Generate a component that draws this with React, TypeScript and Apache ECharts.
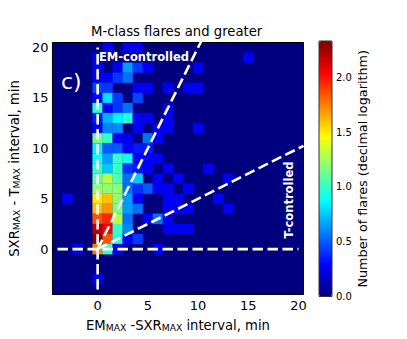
import React, { useEffect, useRef } from "react";
import * as echarts from "echarts";

const FONT = "DejaVu Sans";
const xTicks = [0, 5, 10, 15, 20];
const yTicks = [0, 5, 10, 15, 20];
const barTicks = [0, 0.5, 1, 1.5, 2];
const barMax = 2.33;
const jet = ["#00007f", "#0000ff", "#007fff", "#00ffff", "#7fff7f", "#ffff00", "#ff7f00", "#ff0000", "#7f0000"];

// log10 counts, columns x = 0..9
const yBins = [20, 19, 18, 17, 16, 15, 14, 13, 12, 11, 10, 9, 8, 7, 6, 5, 4, 3, 2, 1, 0, -3];
const row20 = [0, 0.27, 0, 0.27, 0.27, 0, 0, 0, 0, 0];
const row19 = [0.27, 0, 0, 0, 0, 0, 0, 0, 0, 0];
const row18 = [0.27, 0, 0.27, 0.65, 0.42, 0.27, 0, 0, 0, 0];
const row17 = [0.27, 0.27, 0.42, 0.55, 0, 0, 0, 0, 0, 0];
const row16 = [0.45, 0.42, 0, 0, 0.27, 0.27, 0, 0.27, 0, 0.27];
const row15 = [0.3, 0.8, 0.42, 0, 0.45, 0, 0, 0, 0, 0];
const row14 = [0.95, 0.27, 0.42, 0.55, 0, 0, 0, 0.27, 0, 0];
const row13 = [0.35, 0.7, 0.85, 0.95, 0.27, 0.27, 0, 0.27, 0, 0];
const row12 = [0.27, 0.6, 0.6, 0, 0.27, 0, 0.27, 0.27, 0, 0];
const row11 = [1.15, 1.0, 0.27, 0.27, 0, 0.55, 0.27, 0, 0, 0];
const row10 = [0.85, 0.5, 0.5, 0.27, 0.35, 0.35, 0, 0, 0, 0];
const row9 = [0.9, 0.65, 1.0, 0.9, 0.27, 0.27, 0.27, 0, 0, 0];
const row8 = [1.0, 0.75, 1.0, 0.4, 0.35, 0.27, 0, 0.27, 0, 0];
const row7 = [1.1, 1.3, 1.05, 0.55, 0.75, 0, 0.27, 0, 0.27, 0];
const row6 = [1.2, 1.2, 1.2, 0.55, 0.4, 0.5, 0.27, 0.27, 0, 0.27];
const row5 = [1.5, 1.6, 1.2, 0.65, 0.27, 0, 0, 0.27, 0.27, 0];
const row4 = [1.6, 1.7, 1.15, 0.65, 0.55, 0, 0, 0.27, 0.27, 0.27];
const row3 = [1.85, 1.95, 1.3, 0.55, 0, 0.27, 0.55, 0.27, 0, 0];
const row2 = [2.2, 2.05, 1.0, 0.6, 0, 0, 0, 0.27, 0.27, 0.27];
const row1 = [2.33, 1.85, 0.95, 0.27, 0.42, 0, 0, 0, 0, 0];
const row0 = [1.75, 1.0, 0.27, 0, 0, 0, 0.27, 0, 0, 0];
const rowM3 = [0.27, 0, 0, 0, 0, 0, 0, 0, 0, 0];
const rows = [row20, row19, row18, row17, row16, row15, row14, row13, row12, row11, row10, row9, row8, row7, row6, row5, row4, row3, row2, row1, row0, rowM3];
// isolated cells outside that block: x, y, value
const strayCells = [
  [-3, 5, 0.27], [-2, 0, 0.27], [15, 19, 0.27], [10, 18, 0.27], [10, 16, 0.27],
  [10, 12, 0.27], [11, 8, 0.27], [13, 7, 0.27], [12, 5, 0.27], [13, 4, 0.27],
];
const cells: number[][] = [...strayCells];
rows.forEach((r, i) => r.forEach((v, x) => { if (v > 0) cells.push([x, yBins[i], v]); }));

const lineV = [[0, -4], [0, 20]];
const lineH = [[-4, 0], [20, 0]];
const lineEM = [[0, 0], [10.5, 21]];
const lineT = [[0, 0], [20.5, 10.25]];

const dash = (data: number[][]) => ({
  type: "line", data, xAxisIndex: 0, yAxisIndex: 0, symbol: "none", silent: true, z: 5,
  lineStyle: { color: "#fff", width: 2.6, type: [10.5, 4.5] },
});

const subRich = {
  n: { fontFamily: FONT, fontSize: 13.2, color: "#000", lineHeight: 18, verticalAlign: "bottom" as const },
  s: { fontFamily: FONT, fontSize: 9.2, color: "#000", lineHeight: 10, verticalAlign: "bottom" as const },
};

export default function App() {
  const ref = useRef<HTMLDivElement>(null);
  useEffect(() => {
    const chart = echarts.init(ref.current!, null, { renderer: "svg" });
    const axisBase = {
      type: "value", min: -4.5, max: 20.5, splitLine: { show: false },
      axisLine: { show: true, lineStyle: { color: "#000", width: 1 } },
    };
    chart.setOption({
      animation: false,
      backgroundColor: "#fff",
      textStyle: { fontFamily: FONT },
      title: {
        text: "M-class flares and greater", left: 86, top: 20,
        textStyle: { fontFamily: FONT, fontSize: 13.2, fontWeight: "normal", color: "#000" },
      },
      grid: [
        { left: 51, top: 42.5, width: 252.5, height: 252, show: true, backgroundColor: "#00007f", borderColor: "#000", borderWidth: 1, containLabel: false },
        { left: 319, top: 41, width: 13, height: 255.5, show: false },
      ],
      xAxis: [
        {
          ...axisBase, gridIndex: 0,
          axisTick: { show: true, length: 3.5, customValues: xTicks, lineStyle: { color: "#000" } },
          axisLabel: { customValues: xTicks, fontFamily: FONT, fontSize: 13, color: "#000", margin: 4 },
          name: "{n|EM}{s|MAX}{n| -SXR}{s|MAX}{n| interval, min}", nameLocation: "middle", nameGap: 19,
          nameTextStyle: { rich: subRich },
        },
        { gridIndex: 1, type: "value", show: false, min: 0, max: 1 },
      ],
      yAxis: [
        {
          ...axisBase, gridIndex: 0,
          axisTick: { show: true, length: 3.5, customValues: yTicks, lineStyle: { color: "#000" } },
          axisLabel: { customValues: yTicks, fontFamily: FONT, fontSize: 13, color: "#000", margin: 4 },
          name: "{n|SXR}{s|MAX}{n| - T}{s|MAX}{n| interval, min}", nameLocation: "middle", nameGap: 21,
          nameTextStyle: { rich: subRich },
        },
        {
          gridIndex: 1, type: "value", position: "right", min: 0, max: barMax, splitLine: { show: false },
          axisLine: { show: false },
          axisTick: { show: true, length: 3, customValues: barTicks, lineStyle: { color: "#000" } },
          axisLabel: { customValues: barTicks, fontFamily: FONT, fontSize: 10, color: "#000", margin: 4, formatter: (v: number) => v.toFixed(1) },
          name: "Number of flares (decimal logarithm)", nameLocation: "middle", nameGap: 22, nameRotate: 90,
          nameTextStyle: { fontFamily: FONT, fontSize: 12.8, color: "#000" },
        },
      ],
      visualMap: {
        type: "continuous", seriesIndex: 0, dimension: 2, min: 0, max: barMax, left: 319, top: 41,
        itemWidth: 13, itemHeight: 255.5, padding: 0, text: ["", ""], showLabel: false, calculable: false,
        realtime: false, hoverLink: false, inRange: { color: jet }, borderColor: "#444", borderWidth: 0,
      },
      series: [
        {
          type: "custom", xAxisIndex: 0, yAxisIndex: 0, data: cells, silent: true, clip: true, z: 2,
          encode: { x: 0, y: 1 },
          renderItem: (_: any, api: any) => {
            const x = api.value(0), y = api.value(1);
            const p0 = api.coord([x - 0.5, y + 0.5]);
            const p1 = api.coord([x + 0.5, y - 0.5]);
            const c = api.visual("color");
            return {
              type: "rect",
              shape: { x: p0[0], y: p0[1], width: p1[0] - p0[0], height: p1[1] - p0[1] },
              style: { fill: c, stroke: c, lineWidth: 0.3 },
            };
          },
        },
        dash(lineV), dash(lineH), dash(lineEM), dash(lineT),
      ],
      graphic: [
        { type: "text", left: 61, top: 70, z: 10, style: { text: "c)", fill: "#fff", fontFamily: FONT, fontSize: 22 } },
        { type: "text", left: 99, top: 51, z: 10, style: { text: "EM-controlled", fill: "#fff", fontFamily: FONT, fontSize: 11.5, fontWeight: "bold" } },
        { type: "text", x: 289, y: 200, rotation: Math.PI / 2, z: 10, style: { text: "T-controlled", fill: "#fff", fontFamily: FONT, fontSize: 11.5, fontWeight: "bold", align: "center", verticalAlign: "middle" } },
        { type: "rect", z: 10, silent: true, shape: { x: 319, y: 41, width: 13, height: 255.5 }, style: { fill: "none", stroke: "#333", lineWidth: 1 } },
      ],
    });
    return () => chart.dispose();
  }, []);
  return <div ref={ref} style={{ width: 407, height: 339, position: "absolute", left: 0, top: 0 }} />;
}
